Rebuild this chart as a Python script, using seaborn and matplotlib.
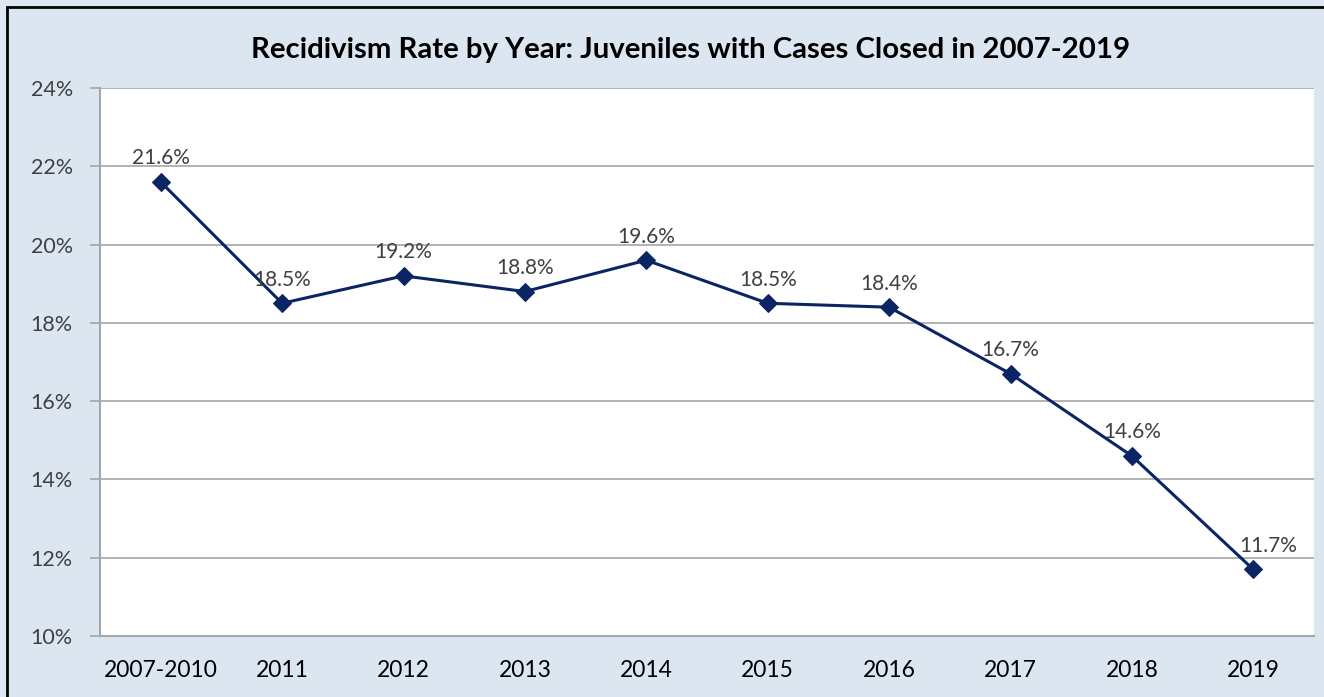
import numpy as np
import pandas as pd
import matplotlib
matplotlib.use("Agg")
import matplotlib.pyplot as plt
import matplotlib.ticker as mticker
from matplotlib.patches import Rectangle
import seaborn as sns

# chart values
periods = ["2007-2010", "2011", "2012", "2013", "2014",
           "2015", "2016", "2017", "2018", "2019"]
rates = [21.6, 18.5, 19.2, 18.8, 19.6, 18.5, 18.4, 16.7, 14.6, 11.7]
y_ticks = [10, 12, 14, 16, 18, 20, 22, 24]
title = "Recidivism Rate by Year: Juveniles with Cases Closed in 2007-2019"

sns.set_style("white")
plt.rcParams["font.family"] = ["Lato", "DejaVu Sans"]

navy = "#0b2463"
grid_col = "#a6a6a6"
bg = "#dce6f1"

df = pd.DataFrame({"period": periods, "rate": rates})

fig = plt.figure(figsize=(13.24, 6.97), dpi=100, facecolor=bg)
ax = fig.add_axes([100 / 1324, 1 - 636 / 697, 1214 / 1324, 548 / 697])
ax.set_facecolor("white")

sns.lineplot(data=df, x="period", y="rate", ax=ax, color=navy, linewidth=2.2,
             marker="D", markersize=9, markeredgecolor=navy, sort=False)

# data labels
for i, (p, r) in enumerate(zip(periods, rates)):
    dx = 11 if i == len(periods) - 1 else 0
    ax.annotate(f"{r:.1f}%", (i, r), xytext=(dx, 17), textcoords="offset points",
                ha="center", va="center", fontsize=15, color="#404040")

ax.set_xlim(-0.5, len(periods) - 0.5)
ax.set_ylim(10, 24)
ax.set_yticks(y_ticks)
ax.yaxis.set_major_formatter(mticker.FuncFormatter(lambda v, _: f"{v:.0f}%"))
ax.set_xticks(range(len(periods)))
ax.set_xticklabels(periods)
ax.set_xticks(np.arange(-0.5, len(periods)), minor=True)
ax.grid(axis="y", color=grid_col, linewidth=1.2)
ax.set_axisbelow(True)

ax.tick_params(axis="x", which="major", length=0, pad=17, labelsize=16.5, labelcolor="black")
ax.tick_params(axis="x", which="minor", length=8, width=1.2, color=grid_col, direction="out")
ax.tick_params(axis="y", length=7, width=1.2, color=grid_col, pad=12.5, labelsize=15.5,
               labelcolor="#404040", left=True)
ax.set_xlabel("")
ax.set_ylabel("")

for s in ["top", "right"]:
    ax.spines[s].set_visible(False)
for s in ["left", "bottom"]:
    ax.spines[s].set_color(grid_col)
    ax.spines[s].set_linewidth(1.5)

fig.text(691 / 1324, 1 - 50 / 697, title, ha="center", va="center",
         fontsize=21.2, fontweight="bold", color="black")

# outer chart border
fig.patches.append(Rectangle((7 / 1324, -0.05), 1.2, 1 - 7 / 697 + 0.05,
                             transform=fig.transFigure, fill=False,
                             edgecolor="black", linewidth=2))

fig.savefig("out.png", dpi=100, facecolor=bg)
